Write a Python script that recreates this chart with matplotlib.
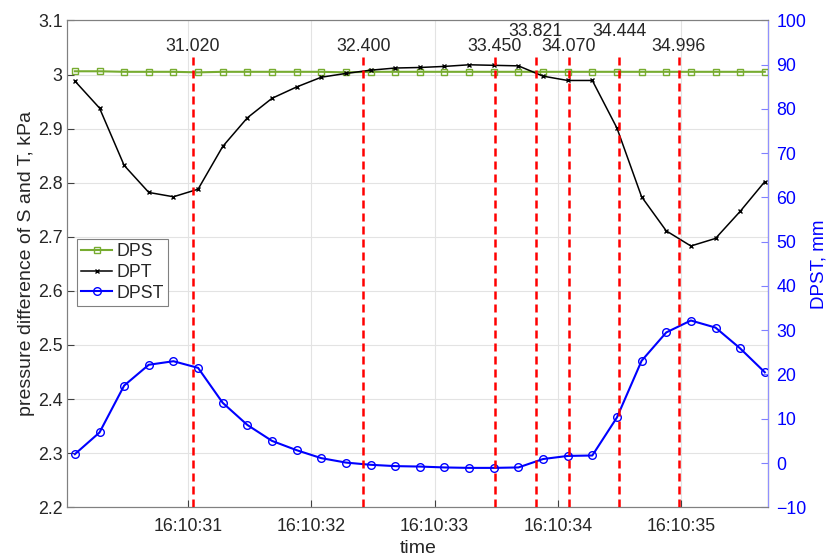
import matplotlib.pyplot as plt

plt.rcParams['font.family'] = ['Liberation Sans', 'DejaVu Sans']
plt.rcParams['font.size'] = 12.8

# sample times in seconds after 16:10:00
times = [30.08, 30.28, 30.48, 30.68, 30.88, 31.08, 31.28, 31.48, 31.68, 31.88,
         32.08, 32.28, 32.48, 32.68, 32.88, 33.08, 33.28, 33.48, 33.68, 33.88,
         34.08, 34.28, 34.48, 34.68, 34.88, 35.08, 35.28, 35.48, 35.68]

# DPS, kPa
dps = [3.006, 3.006, 3.005, 3.005, 3.005, 3.004, 3.005, 3.005, 3.005, 3.005,
       3.005, 3.004, 3.005, 3.005, 3.005, 3.005, 3.005, 3.005, 3.005, 3.005,
       3.005, 3.005, 3.005, 3.005, 3.005, 3.005, 3.005, 3.005, 3.005]

# DPT, kPa
dpt = [2.988, 2.938, 2.832, 2.782, 2.774, 2.788, 2.867, 2.920, 2.956, 2.977,
       2.995, 3.002, 3.008, 3.012, 3.013, 3.015, 3.018, 3.017, 3.016, 2.997,
       2.989, 2.989, 2.901, 2.774, 2.711, 2.683, 2.697, 2.747, 2.802]

# DPST, mm
dpst = [2.0, 6.9, 17.5, 22.2, 23.0, 21.5, 13.6, 8.6, 5.0, 2.9,
        1.1, 0.1, -0.4, -0.7, -0.8, -1.0, -1.1, -1.1, -1.0, 0.9,
        1.6, 1.7, 10.3, 23.1, 29.5, 32.2, 30.6, 25.9, 20.5]

# marked events: line positions and their labels
event_x = [31.036, 32.42, 33.49, 33.82, 34.09, 34.50, 34.98]
event_labels = ['31.020', '32.400', '33.450', '33.821', '34.070', '34.444', '34.996']
event_raised = [False, False, False, True, False, True, False]

xticks = [31, 32, 33, 34, 35]
xtick_labels = ['16:10:31', '16:10:32', '16:10:33', '16:10:34', '16:10:35']
yticks_left = [2.2, 2.3, 2.4, 2.5, 2.6, 2.7, 2.8, 2.9, 3.0, 3.1]
yticks_right = [-10, 0, 10, 20, 30, 40, 50, 60, 70, 80, 90, 100]

txt = '#262626'
fig = plt.figure(figsize=(8.3, 5.58), dpi=100)
ax = fig.add_axes([0.0813, 0.0909, 0.8440, 0.8725])
ax2 = ax.twinx()

l1, = ax.plot(times, dps, color='#77AC30', lw=1.5, marker='s', ms=4.5,
              mfc='none', mew=1.0, label='DPS')
l2, = ax.plot(times, dpt, color='black', lw=1.1, marker='x', ms=3.5,
              mew=1.0, label='DPT')
l3, = ax2.plot(times, dpst, color='#0000FF', lw=1.5, marker='o', ms=5.5,
               mfc='none', mew=1.0, label='DPST')

# red dashed event lines, drawn on top
for x in event_x:
    ax2.axvline(x, ymin=0, ymax=(3.032 - 2.2) / 0.9, color='#FF0000', lw=1.8,
                ls=(0, (3.2, 2.0)), zorder=5)
for x, lab, up in zip(event_x, event_labels, event_raised):
    ax.text(x, 3.080 if up else 3.052, lab, ha='center', va='center',
            color=txt, fontsize=12.8)

ax.set_xlim(30.02, 35.706)
ax.set_ylim(2.2, 3.1)
ax2.set_ylim(-10, 100)

ax.set_xticks(xticks)
ax.set_xticklabels(xtick_labels)
ax.set_yticks(yticks_left)
ax.set_yticklabels(['%g' % v for v in yticks_left])
ax2.set_yticks(yticks_right)

ax.grid(True, color='#e3e3e3', lw=0.8)
ax.set_axisbelow(True)
ax.tick_params(direction='in', length=5, colors='#404040', labelcolor=txt,
               labelsize=12.8)
ax.tick_params(axis='x', pad=8)
ax2.tick_params(direction='in', length=5, colors='#8080ff', labelcolor='#0000FF',
                labelsize=12.8, pad=6)

for s in ['left', 'bottom', 'top']:
    ax.spines[s].set_color('#808080')
ax2.spines['right'].set_color('#9090ff')
ax2.spines['top'].set_color('#808080')
ax2.spines['left'].set_color('#808080')
ax2.spines['bottom'].set_color('#808080')

ax.set_xlabel('time', color=txt, fontsize=14, labelpad=3)
ax.set_ylabel('pressure difference of S and T, kPa', color=txt, fontsize=14, labelpad=2)
ax2.set_ylabel('DPST, mm', color='#0000FF', fontsize=13.5, labelpad=3)

leg = ax2.legend(handles=[l1, l2, l3], loc='upper left',
                 bbox_to_anchor=(0.0136, 0.551), borderaxespad=0,
                 fancybox=False, framealpha=1, edgecolor='#808080',
                 fontsize=12.8, handlelength=1.7, handletextpad=0.25,
                 labelspacing=0.2, borderpad=0.25)
leg.get_frame().set_linewidth(0.8)
for t in leg.get_texts():
    t.set_color(txt)

fig.savefig('out.png', dpi=100)
